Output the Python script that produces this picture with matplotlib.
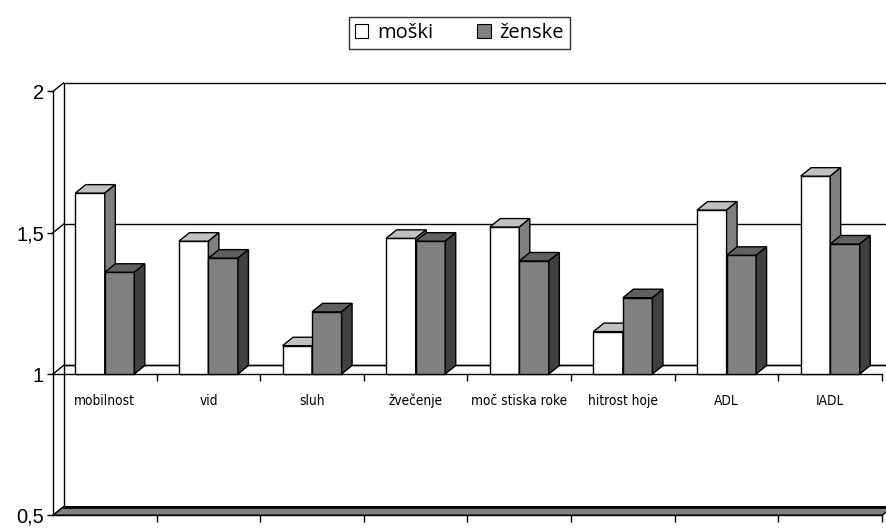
import matplotlib
matplotlib.use("Agg")
import numpy as np
import matplotlib.pyplot as plt
from matplotlib import font_manager as fm
from matplotlib.patches import Polygon, Patch

# --- data -------------------------------------------------------------
categories = ["mobilnost", "vid", "sluh", "žvečenje", "moč stiska roke",
              "hitrost hoje", "ADL", "IADL"]
moski = [1.64, 1.47, 1.10, 1.48, 1.52, 1.15, 1.58, 1.70]
zenske = [1.36, 1.41, 1.22, 1.47, 1.40, 1.27, 1.42, 1.46]
series_names = ["moški", "ženske"]
y_ticks = [0.5, 1.0, 1.5, 2.0]
y_tick_labels = ["0,5", "1", "1,5", "2"]

# --- styling ----------------------------------------------------------
W, H, DPI = 887, 528, 100
BASE = 1.0                       # category axis crosses the value axis here
BAR_W = 0.285
DEPTH_PX = np.array([10.5, 8.5])  # oblique depth of the 3-D look (pixels)
face_cols = {
    "moški": ("#FFFFFF", "#C0C0C0", "#808080"),   # front, top, side
    "ženske": ("#808080", "#606060", "#404040"),
}
EDGE_LW = 1.0


def font_available(family):
    try:
        fm.findfont(fm.FontProperties(family=family), fallback_to_default=False)
        return True
    except ValueError:
        return False


# narrow face for the category names
if font_available("Liberation Sans Narrow"):
    cat_font = dict(family=["Liberation Sans Narrow", "DejaVu Sans"],
                    stretch="normal", size=11.5)
else:
    cat_font = dict(family=["DejaVu Sans"], stretch="condensed", size=9.8)

fig = plt.figure(figsize=(W / DPI, H / DPI), dpi=DPI)
ax = fig.add_axes([53 / W, (H - 515.3) / H, 829 / W, 423.9 / H])
n = len(categories)
ax.set_xlim(-0.5, n - 0.5)
ax.set_ylim(0.5, 2.0)

# depth offset expressed in data units
p0 = ax.transData.transform((0.0, BASE))
dx, dy = ax.transData.inverted().transform(p0 + DEPTH_PX) - np.array([0.0, BASE])

x_left, x_right = -0.5, n - 0.5

# back wall gridlines and left side wall
for v in y_ticks:
    ax.plot([x_left, x_left + dx], [v, v + dy], color="k", lw=1.0,
            clip_on=False, zorder=1)
    if v > 0.5:
        ax.plot([x_left + dx, x_right + dx + 0.2], [v + dy, v + dy],
                color="k", lw=1.0, clip_on=False, zorder=1)
ax.plot([x_left + dx, x_left + dx], [0.5 + dy, 2.0 + dy], color="k",
        lw=1.0, clip_on=False, zorder=1)

# floor slab at the bottom of the value range
floor = Polygon([(x_left, 0.5), (x_right, 0.5), (x_right + dx, 0.5 + dy),
                 (x_left + dx, 0.5 + dy)], closed=True, fc="#808080",
                ec="k", lw=1.0, clip_on=False, zorder=1.5)
ax.add_patch(floor)
ax.plot([x_left + dx, x_right + dx], [0.5 + dy, 0.5 + dy], color="k",
        lw=2.0, clip_on=False, zorder=1.6)


def draw_bar(x0, value, cols, z):
    front, top, side = cols
    x1 = x0 + BAR_W
    ax.bar(x0, value - BASE, width=BAR_W, bottom=BASE, align="edge",
           color=front, edgecolor="k", linewidth=EDGE_LW, zorder=z)
    ax.add_patch(Polygon([(x0, value), (x1, value), (x1 + dx, value + dy),
                          (x0 + dx, value + dy)], closed=True, fc=top,
                         ec="k", lw=EDGE_LW, zorder=z))
    ax.add_patch(Polygon([(x1, BASE), (x1, value), (x1 + dx, value + dy),
                          (x1 + dx, BASE + dy)], closed=True, fc=side,
                         ec="k", lw=EDGE_LW, zorder=z))


z = 3.0
for i in range(n):
    for k, (name, vals) in enumerate(zip(series_names, [moski, zenske])):
        x0 = i - BAR_W + k * BAR_W
        draw_bar(x0, vals[i], face_cols[name], z)
        z += 0.01

# spines and value axis
for s in ("top", "right"):
    ax.spines[s].set_visible(False)
ax.spines["left"].set_linewidth(1.0)
ax.spines["bottom"].set_linewidth(1.0)
ax.set_yticks(y_ticks, y_tick_labels)
ax.tick_params(axis="y", direction="out", length=4, width=1.0, pad=2.5,
               labelsize=14.5)
for lab in ax.get_yticklabels():
    lab.set_family(["Liberation Sans", "DejaVu Sans"])
boundaries = np.arange(0.5, n, 1.0)
ax.set_xticks(boundaries, [""] * len(boundaries))
ax.tick_params(axis="x", direction="out", length=5, width=1.0)

# category axis crossing at BASE
sec = ax.secondary_xaxis(BASE, transform=ax.transData)
sec.set_alignment("bottom")
sec.patch.set_visible(False)
sec.spines["bottom"].set_linewidth(1.0)
sec.set_xticks(boundaries, [""] * len(boundaries))
sec.set_xticks(np.arange(n), categories, minor=True)
sec.tick_params(which="major", direction="out", length=5, width=1.0)
sec.tick_params(which="minor", length=0, pad=22, labelsize=cat_font["size"])
for lab in sec.get_xticklabels(minor=True):
    lab.set_family(cat_font["family"])
    lab.set_stretch(cat_font["stretch"])
    lab.set_verticalalignment("baseline")

# back line of the BASE plane
ax.plot([x_left + dx, x_right + dx + 0.2], [BASE + dy, BASE + dy],
        color="k", lw=1.0, clip_on=False, zorder=1)

# legend
handles = [Patch(fc=face_cols[nm][0], ec="k", lw=0.8) for nm in series_names]
leg = fig.legend(handles, series_names, loc="center",
                 bbox_to_anchor=(459.5 / W, 1 - 33 / H), ncol=2,
                 frameon=True, fancybox=False, edgecolor="k",
                 prop={"family": ["Open Sans", "DejaVu Sans"], "size": 14.5},
                 handlelength=0.65, handleheight=0.65, handletextpad=0.45,
                 columnspacing=2.2, borderpad=0.3, borderaxespad=0)
leg.get_frame().set_linewidth(1.0)

fig.savefig("out.png", dpi=DPI)
